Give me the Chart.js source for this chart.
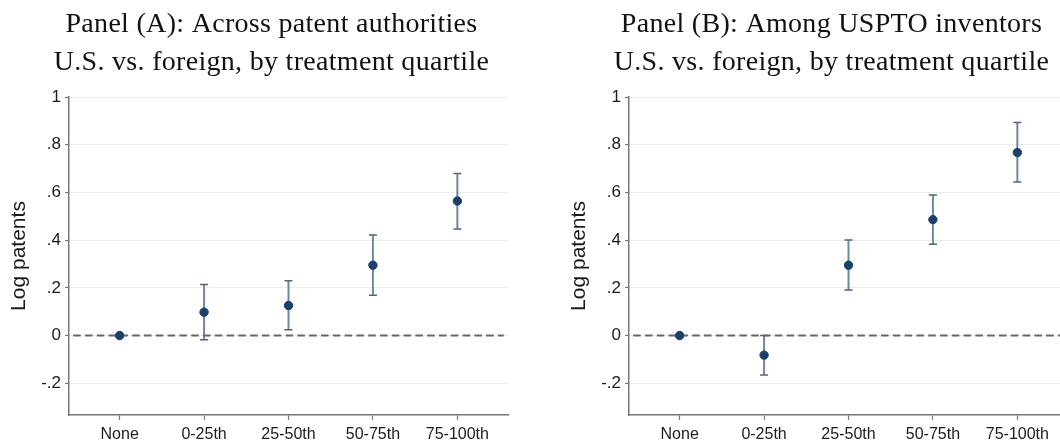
<!DOCTYPE html>
<html>
<head>
<meta charset="utf-8">
<script src="https://cdn.jsdelivr.net/npm/chart.js@4/dist/chart.umd.min.js"></script>
<style>
  html, body { margin: 0; padding: 0; background: #fff; overflow: hidden; }
  .panel { position: absolute; top: 0; width: 560px; height: 444px; }
</style>
</head>
<body>
<div class="panel" style="left:0"><canvas id="panelA" width="560" height="444"></canvas></div>
<div class="panel" style="left:560px"><canvas id="panelB" width="560" height="444"></canvas></div>
<script>
// categories and values
const categories = ['None', '0-25th', '25-50th', '50-75th', '75-100th'];
const yTicks = [-0.2, 0, 0.2, 0.4, 0.6, 0.8, 1];
const yTickLabels = ['-.2', '0', '.2', '.4', '.6', '.8', '1'];

const panelAEst = [0, 0.098, 0.126, 0.295, 0.564];
const panelALow = [null, -0.018, 0.024, 0.169, 0.447];
const panelAHigh = [null, 0.214, 0.230, 0.422, 0.679];

const panelBEst = [0, -0.082, 0.295, 0.486, 0.767];
const panelBLow = [null, -0.165, 0.191, 0.383, 0.644];
const panelBHigh = [null, 0.0, 0.401, 0.589, 0.893];

const titleA = ['Panel (A): Across patent authorities', 'U.S. vs. foreign, by treatment quartile'];
const titleB = ['Panel (B): Among USPTO inventors', 'U.S. vs. foreign, by treatment quartile'];

// draws the two-line serif heading, centred over the whole graph
const headingPlugin = {
  id: 'heading',
  afterDraw(chart, args, opts) {
    const ctx = chart.ctx;
    ctx.save();
    ctx.fillStyle = '#111';
    ctx.font = opts.font;
    ctx.letterSpacing = opts.spacing;
    ctx.textAlign = 'center';
    ctx.textBaseline = 'middle';
    opts.lines.forEach((t, i) => ctx.fillText(t, opts.x, opts.y[i]));
    ctx.restore();
  }
};

// confidence interval spikes with small caps
const errorBarPlugin = {
  id: 'errorBars',
  beforeDatasetsDraw(chart, args, opts) {
    const xs = chart.scales.x, ys = chart.scales.y;
    const ctx = chart.ctx;
    ctx.save();
    opts.low.forEach((lo, i) => {
      const hi = opts.high[i];
      if (lo === null || hi === null) return;
      const px = xs.getPixelForValue(i);
      const top = ys.getPixelForValue(hi);
      const bot = ys.getPixelForValue(lo);
      ctx.strokeStyle = '#6d89a4';
      ctx.lineWidth = 2;
      ctx.beginPath();
      ctx.moveTo(px, top);
      ctx.lineTo(px, bot);
      ctx.stroke();
      ctx.strokeStyle = '#58626e';
      ctx.lineWidth = 1.5;
      ctx.beginPath();
      ctx.moveTo(px - 4, top);
      ctx.lineTo(px + 4, top);
      ctx.moveTo(px - 4, bot);
      ctx.lineTo(px + 4, bot);
      ctx.stroke();
    });
    ctx.restore();
  }
};

const xTickFont = { family: 'Liberation Sans, Arial, sans-serif', size: 16 };
const yTickFont = { family: 'Liberation Sans, Arial, sans-serif', size: 17 };

function makePanel(id, est, low, high, lines) {
  const points = est.map((v, i) => ({ x: i, y: v }));
  return new Chart(document.getElementById(id), {
    type: 'scatter',
    data: {
      datasets: [
        {
          data: points,
          backgroundColor: '#1c4068',
          borderColor: '#1c4068',
          pointRadius: 4.2,
          pointHoverRadius: 4.2,
          order: 0
        },
        {
          type: 'line',
          data: [{ x: -0.55, y: 0 }, { x: 4.55, y: 0 }],
          borderColor: '#666',
          borderWidth: 2,
          borderDash: [7.5, 4.3],
          pointRadius: 0,
          order: 1
        }
      ]
    },
    options: {
      responsive: false,
      animation: false,
      devicePixelRatio: 1,
      layout: { padding: { top: 97, right: 52, left: 0, bottom: 0 } },
      plugins: {
        legend: { display: false },
        tooltip: { enabled: false },
        heading: {
          lines: lines,
          x: 271.5,
          y: [25, 63],
          font: '28px "Liberation Serif", "Times New Roman", serif',
          spacing: '0.3px'
        },
        errorBars: { low: low, high: high }
      },
      scales: {
        x: {
          type: 'linear',
          min: -0.6,
          max: 4.6,
          afterBuildTicks: s => { s.ticks = categories.map((c, i) => ({ value: i })); },
          afterFit: s => { s.height = 29; },
          ticks: {
            callback: v => categories[v],
            font: xTickFont,
            color: '#1a1a1a',
            padding: 5,
            maxRotation: 0,
            autoSkip: false
          },
          grid: { drawOnChartArea: false, tickLength: 5, tickColor: '#777', tickWidth: 1.2 },
          border: { color: '#777', width: 1.5 }
        },
        y: {
          min: -0.333,
          max: 1,
          afterBuildTicks: s => { s.ticks = yTicks.map(v => ({ value: v })); },
          afterFit: s => { s.width = 69; },
          ticks: {
            callback: v => yTickLabels[yTicks.findIndex(t => Math.abs(t - v) < 1e-9)],
            font: yTickFont,
            color: '#1a1a1a',
            padding: 4
          },
          title: {
            display: true,
            text: 'Log patents',
            font: { family: 'Liberation Sans, Arial, sans-serif', size: 21 },
            color: '#1a1a1a',
            padding: { top: 7, bottom: 0 }
          },
          grid: { color: '#ececec', lineWidth: 1, tickLength: 4, tickColor: '#777', tickWidth: 1.2 },
          border: { color: '#777', width: 1.5 }
        }
      }
    },
    plugins: [headingPlugin, errorBarPlugin]
  });
}

makePanel('panelA', panelAEst, panelALow, panelAHigh, titleA);
makePanel('panelB', panelBEst, panelBLow, panelBHigh, titleB);
</script>
</body>
</html>
